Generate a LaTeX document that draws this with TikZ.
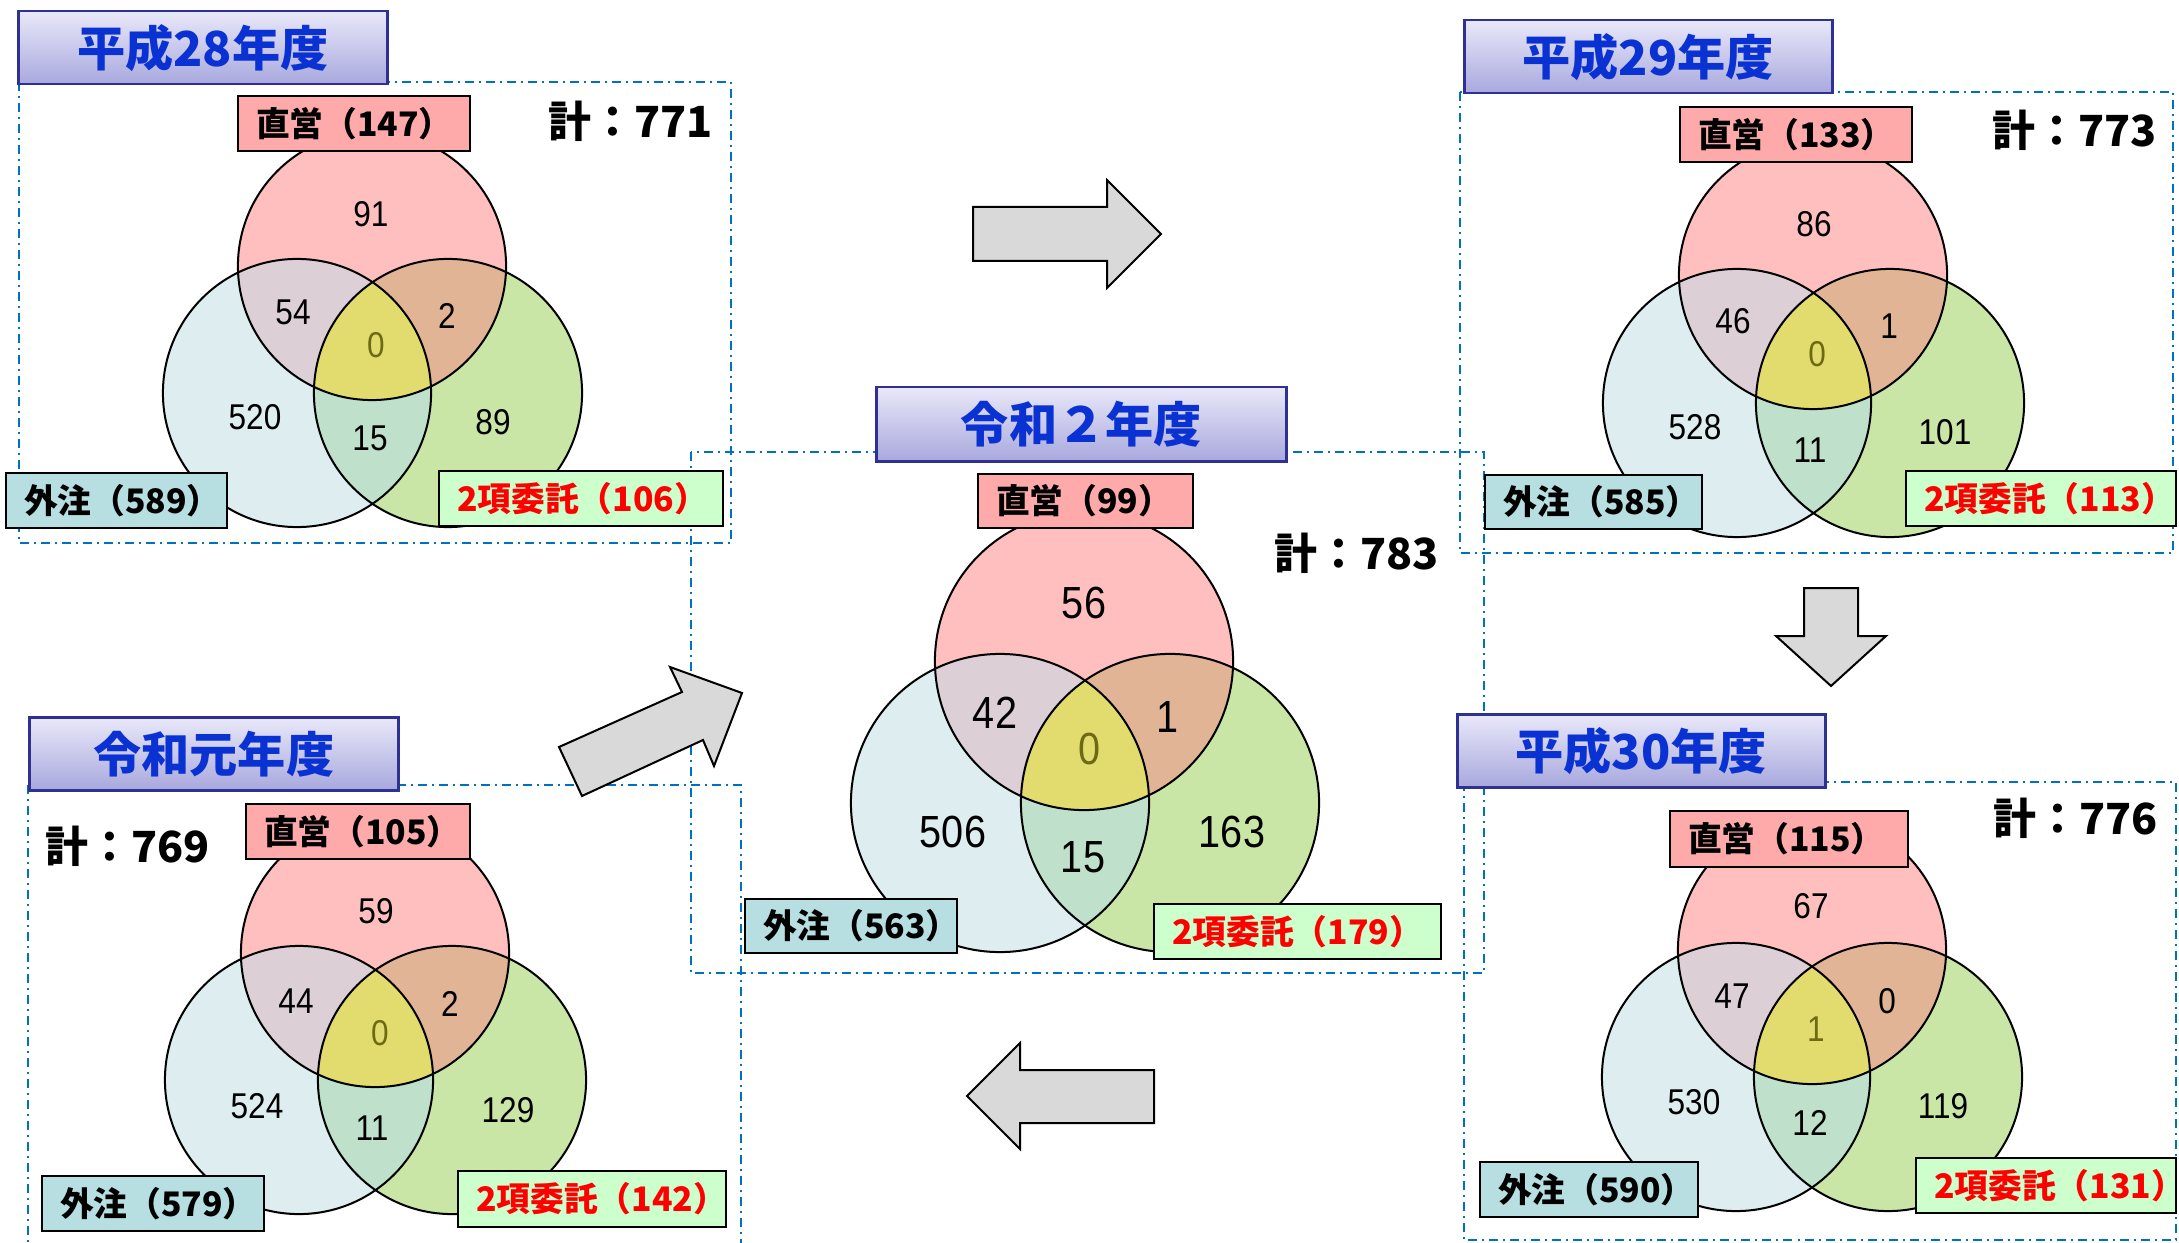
\documentclass[tikz,border=0pt]{standalone}
\usepackage{fontspec}
\setmainfont{Liberation Sans}
\newfontfamily\jp{Noto Sans CJK JP}
\newfontfamily\numf[FakeStretch=0.88]{Liberation Sans}
\definecolor{frameblue}{HTML}{0070C0}
\definecolor{ttop}{HTML}{E9E8F9}
\definecolor{tbot}{HTML}{A8A8DE}
\definecolor{tborder}{HTML}{2E3192}
\definecolor{ttext}{HTML}{0A32D2}
\definecolor{cT}{HTML}{FFBFBF}
\definecolor{cL}{HTML}{DDEDF0}
\definecolor{cR}{HTML}{C9E6A6}
\definecolor{cLT}{HTML}{DCCFD5}
\definecolor{cRT}{HTML}{E2B496}
\definecolor{cLR}{HTML}{BFE0CB}
\definecolor{cC}{HTML}{E2DC6E}
\definecolor{lbpink}{HTML}{FFAAAA}
\definecolor{lbteal}{HTML}{B7DEE0}
\definecolor{lbgreen}{HTML}{CCFFCC}
\definecolor{arrowgray}{HTML}{D9D9D9}
\definecolor{olivetext}{HTML}{6E6A14}
\tikzset{
  frame/.style={draw=frameblue, line width=0.02cm, dash pattern=on 0.09cm off 0.05cm on 0.02cm off 0.05cm},
  titlebox/.style={draw=tborder, line width=0.025cm, top color=ttop, bottom color=tbot, align=center, text=ttext, font=\jp\bfseries\fontsize{13.7}{15}\selectfont},
  lab/.style={draw=black, line width=0.02cm, align=left, font=\jp\bfseries\fontsize{9.6}{11}\selectfont},
  labpink/.style={lab, fill=lbpink},
  labteal/.style={lab, fill=lbteal},
  labgreen/.style={lab, fill=lbgreen, text=red},
  total/.style={font=\jp\bfseries\fontsize{12.2}{13}\selectfont, inner sep=0pt},
  num/.style={font=\numf\fontsize{10.2}{11}\selectfont, inner sep=0pt},
  numL/.style={font=\numf\fontsize{12.8}{14}\selectfont, inner sep=0pt},
  vline/.style={draw=black, line width=0.02cm},
  blockarrow/.style={draw=black, line width=0.02cm, fill=arrowgray, line join=miter},
}
% box node: #1 name, #2 style, #3 x1, #4 y1, #5 x2, #6 y2, #7 text
\newcommand\boxnode[7]{%
  \pgfmathsetmacro\myBw{(#5-#3)*0.01}%
  \pgfmathsetmacro\myBh{(#6-#4)*0.01}%
  \pgfmathsetmacro\myBt{(#5-#3)*0.01-0.36}%
  \node[#2, anchor=north west, minimum width=\myBw cm, minimum height=\myBh cm,
        text width=\myBt cm, inner xsep=0.18cm, inner ysep=0pt] (#1) at (#3,#4) {#7};}
% venn: #1 prefix, #2,#3 top centre, #4,#5 left centre, #6,#7 right centre, #8 radius
\newcommand\venn[8]{%
  \coordinate (#1T) at (#2,#3);
  \coordinate (#1L) at (#4,#5);
  \coordinate (#1R) at (#6,#7);
  \fill[cL] (#1L) circle[radius=#8];
  \fill[cR] (#1R) circle[radius=#8];
  \fill[cT] (#1T) circle[radius=#8];
  \begin{scope}
    \clip (#1R) circle[radius=#8];
    \fill[cRT] (#1T) circle[radius=#8];
  \end{scope}
  \begin{scope}
    \clip (#1L) circle[radius=#8];
    \fill[cLR] (#1R) circle[radius=#8];
    \fill[cLT] (#1T) circle[radius=#8];
    \clip (#1R) circle[radius=#8];
    \fill[cC] (#1T) circle[radius=#8];
  \end{scope}
  \draw[vline] (#1L) circle[radius=#8];
  \draw[vline] (#1R) circle[radius=#8];
  \draw[vline] (#1T) circle[radius=#8];
}
% number node: #1 name, #2 style, #3 x, #4 y, #5 text
\newcommand\vn[5]{\node[#2] (#1) at (#3,#4) {#5};}
\begin{document}
\begin{tikzpicture}[x=0.01cm, y=-0.01cm]
\useasboundingbox (0,0) rectangle (2179,1243);
\fill[white] (0,0) rectangle (2179,1243);

% frames
\draw[frame] (19,82) rectangle (731,543);
\draw[frame] (1460,92) rectangle (2173,553);
\draw[frame] (691,452) rectangle (1484,973);
\draw[frame] (28,785) rectangle (741,1280);
\draw[frame] (1464,782) rectangle (2176,1240);

% block arrows
\draw[blockarrow] (973,207) -- (1107,207) -- (1107,180) -- (1161,234) -- (1107,288) -- (1107,261) -- (973,261) -- cycle;
\draw[blockarrow] (1804,588) -- (1858,588) -- (1858,636) -- (1886,636) -- (1831,686) -- (1776,636) -- (1804,636) -- cycle;
\draw[blockarrow] (1154,1070) -- (1020,1070) -- (1020,1043) -- (967,1096) -- (1020,1149) -- (1020,1123) -- (1154,1123) -- cycle;
\draw[blockarrow] (559,747) -- (682,692) -- (670,667) -- (742,693) -- (714,766) -- (703,740) -- (582,796) -- cycle;

% ---------- H28 ----------
\venn{a}{372}{266}{297}{393}{448}{393}{1.34cm}
\boxnode{aTitle}{titlebox}{17}{10}{386}{83}{平成28年度}
\boxnode{aDirect}{labpink}{237}{95}{469}{150}{直営（147）}
\boxnode{aOut}{labteal}{5}{472}{226}{527}{外注（589）}
\boxnode{aTwo}{labgreen}{438}{470}{722}{525}{2項委託（106）}
\node[total] (aTotal) at (631,121) {計：771};
\vn{a1}{num}{371}{214}{91}
\vn{a2}{num}{293}{312}{54}
\vn{a3}{num}{447}{316}{2}
\vn{a4}{num,text=olivetext}{376}{345}{0}
\vn{a5}{num}{255}{417}{520}
\vn{a6}{num}{370}{438}{15}
\vn{a7}{num}{493}{422}{89}

% ---------- H29 ----------
\venn{b}{1813}{275}{1737}{403}{1890}{403}{1.34cm}
\boxnode{bTitle}{titlebox}{1463}{19}{1831}{92}{平成29年度}
\boxnode{bDirect}{labpink}{1679}{106}{1911}{161}{直営（133）}
\boxnode{bOut}{labteal}{1484}{474}{1701}{528}{外注（585）}
\boxnode{bTwo}{labgreen}{1905}{470}{2175}{525}{2項委託（113）}
\node[total] (bTotal) at (2075,130) {計：773};
\vn{b1}{num}{1814}{224}{86}
\vn{b2}{num}{1733}{321}{46}
\vn{b3}{num}{1889}{326}{1}
\vn{b4}{num,text=olivetext}{1817}{354}{0}
\vn{b5}{num}{1695}{427}{528}
\vn{b6}{num}{1810}{450}{11}
\vn{b7}{num}{1945}{432}{101}

% ---------- R2 (centre) ----------
\venn{c}{1084}{661}{1000}{803}{1170}{803}{1.49cm}
\boxnode{cTitle}{titlebox}{875}{386}{1285}{460}{令和２年度}
\boxnode{cDirect}{labpink}{977}{473}{1192}{527}{直営（99）}
\boxnode{cOut}{labteal}{744}{898}{956}{952}{外注（563）}
\boxnode{cTwo}{labgreen}{1153}{903}{1440}{958}{2項委託（179）}
\node[total] (cTotal) at (1357,553) {計：783};
\vn{c1}{numL}{1084}{603}{56}
\vn{c2}{numL}{995}{713}{42}
\vn{c3}{numL}{1167}{717}{1}
\vn{c4}{numL,text=olivetext}{1089}{749}{0}
\vn{c5}{numL}{953}{832}{506}
\vn{c6}{numL}{1083}{857}{15}
\vn{c7}{numL}{1232}{832}{163}

% ---------- R1 ----------
\venn{d}{375}{953}{299}{1080}{452}{1080}{1.34cm}
\boxnode{dTitle}{titlebox}{28}{716}{397}{789}{令和元年度}
\boxnode{dDirect}{labpink}{245}{803}{469}{858}{直営（105）}
\boxnode{dOut}{labteal}{41}{1175}{263}{1230}{外注（579）}
\boxnode{dTwo}{labgreen}{457}{1170}{725}{1226}{2項委託（142）}
\node[total] (dTotal) at (128,846) {計：769};
\vn{d1}{num}{376}{911}{59}
\vn{d2}{num}{296}{1001}{44}
\vn{d3}{num}{450}{1004}{2}
\vn{d4}{num,text=olivetext}{380}{1033}{0}
\vn{d5}{num}{257}{1106}{524}
\vn{d6}{num}{372}{1128}{11}
\vn{d7}{num}{508}{1110}{129}

% ---------- H30 ----------
\venn{e}{1812}{950}{1736}{1077}{1888}{1077}{1.34cm}
\boxnode{eTitle}{titlebox}{1456}{713}{1824}{786}{平成30年度}
\boxnode{eDirect}{labpink}{1669}{810}{1907}{866}{直営（115）}
\boxnode{eOut}{labteal}{1479}{1161}{1697}{1216}{外注（590）}
\boxnode{eTwo}{labgreen}{1915}{1157}{2175}{1212}{2項委託（131）}
\node[total] (eTotal) at (2076,818) {計：776};
\vn{e1}{num}{1811}{906}{67}
\vn{e2}{num}{1732}{996}{47}
\vn{e3}{num}{1887}{1001}{0}
\vn{e4}{num,text=olivetext}{1816}{1029}{1}
\vn{e5}{num}{1694}{1102}{530}
\vn{e6}{num}{1810}{1123}{12}
\vn{e7}{num}{1943}{1106}{119}
\end{tikzpicture}
\end{document}
